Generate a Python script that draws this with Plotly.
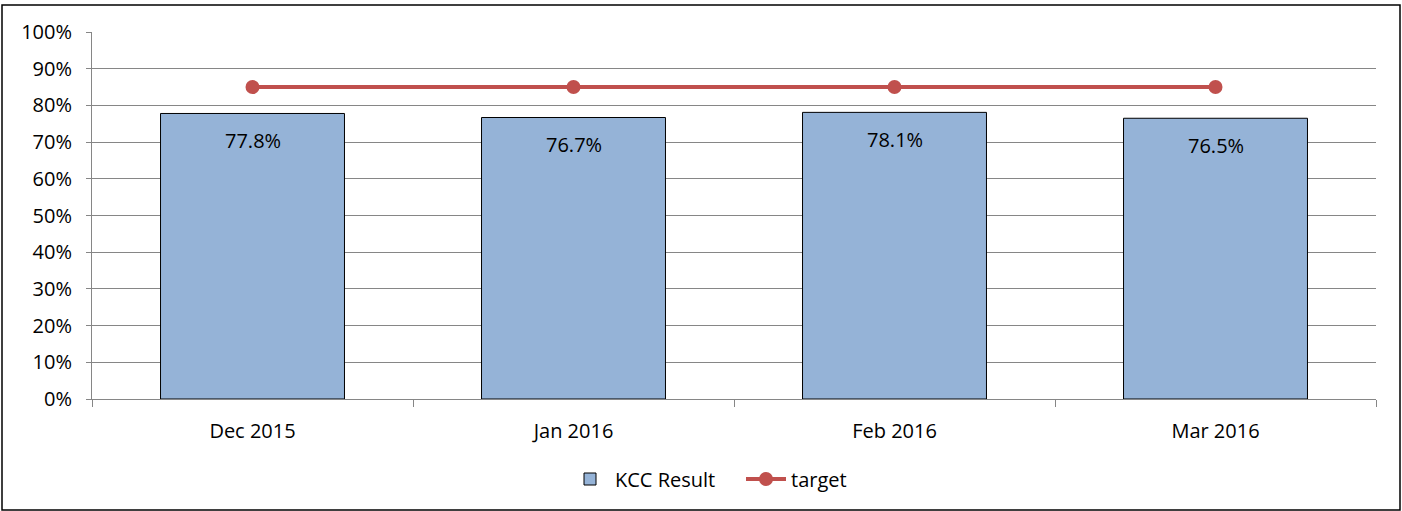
import plotly.graph_objects as go

categories = ["Dec 2015", "Jan 2016", "Feb 2016", "Mar 2016"]
kcc_result = [0.778, 0.767, 0.781, 0.765]
target = [0.85, 0.85, 0.85, 0.85]
y_ticks = [0, 0.1, 0.2, 0.3, 0.4, 0.5, 0.6, 0.7, 0.8, 0.9, 1.0]
y_tick_labels = ["0%", "10%", "20%", "30%", "40%", "50%", "60%", "70%", "80%", "90%", "100%"]

FONT = "Open Sans"
FS = 20
W, H = 1402, 511
L, R, T, B = 92, 26, 32, 112
pw, ph = W - L - R, H - T - B

def px_x(p):
    return (p - L) / pw

def px_y(p):
    return (H - B - p) / ph

fig = go.Figure()
fig.add_trace(go.Bar(
    x=categories, y=kcc_result, name="KCC Result",
    marker=dict(color="#95B3D7", line=dict(color="#000000", width=1)),
))
fig.add_trace(go.Scatter(
    x=categories, y=target, name="target", mode="lines+markers",
    line=dict(color="#C0504D", width=4),
    marker=dict(color="#C0504D", size=14),
))

for c, v in zip(categories, kcc_result):
    fig.add_annotation(x=c, y=v, text=f"{v*100:.1f}%", showarrow=False,
                       yanchor="middle", yshift=-27,
                       font=dict(family=FONT, size=FS, color="#000000"))

fig.add_shape(type="rect", xref="paper", yref="paper",
              x0=px_x(2), x1=px_x(1400), y0=px_y(510), y1=px_y(5),
              line=dict(color="#000000", width=1.5), fillcolor="rgba(0,0,0,0)", layer="below")

fig.update_layout(
    width=W, height=H,
    margin=dict(l=L, r=R, t=T, b=B, pad=0),
    paper_bgcolor="white", plot_bgcolor="white",
    font=dict(family=FONT, size=FS, color="#000000"),
    bargap=0.427,
    showlegend=True,
    legend=dict(orientation="h", x=px_x(565), xanchor="left", y=px_y(479), yanchor="middle",
                font=dict(family=FONT, size=FS), itemwidth=40, traceorder="normal",
                entrywidth=121, entrywidthmode="pixels"),
    xaxis=dict(
        type="category", range=[-0.5, 3.5], tickson="boundaries",
        ticks="outside", ticklen=7, tickcolor="#868686",
        showline=True, linecolor="#868686", linewidth=1,
        showgrid=False, ticklabelstandoff=14,
        tickfont=dict(family=FONT, size=FS),
    ),
    yaxis=dict(
        range=[0, 1.0], tickvals=y_ticks, ticktext=y_tick_labels,
        ticks="outside", ticklen=5, tickcolor="#868686",
        showline=True, linecolor="#868686", linewidth=1,
        showgrid=True, gridcolor="#868686", gridwidth=1,
        zeroline=False, ticklabelstandoff=10,
        tickfont=dict(family=FONT, size=FS),
    ),
)

fig.write_html("out.html", config={"displayModeBar": False},
               post_script="document.body.style.margin='0';")
